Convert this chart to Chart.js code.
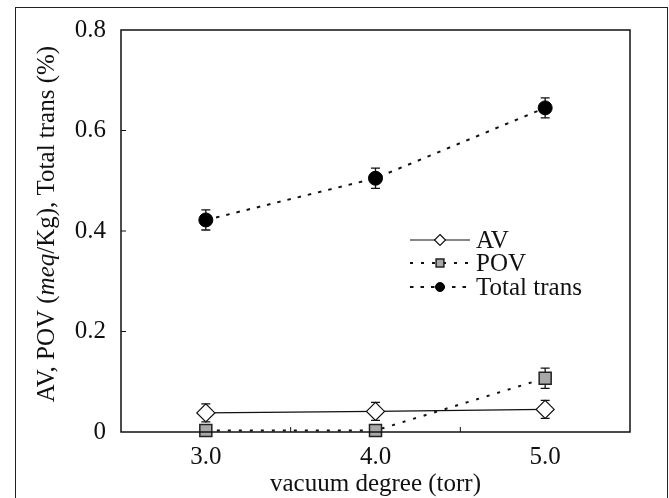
<!DOCTYPE html>
<html>
<head>
<meta charset="utf-8">
<script src="https://cdn.jsdelivr.net/npm/chart.js@4.4.1/dist/chart.umd.min.js"></script>
<style>
html, body { margin: 0; padding: 0; background: #fff; }
#marco { position: absolute; left: 15px; top: 7px; width: 651px; height: 500px; border: 1.5px solid #222; border-bottom: none; }
#caja { position: absolute; left: 0; top: 0; width: 669px; height: 498px; }
</style>
</head>
<body>
<div id="marco"></div>
<div id="caja"><canvas id="myChart" width="669" height="498"></canvas></div>
<script>
// datos
const vacio = [3.0, 4.0, 5.0]
const xTickLabels = ["3.0", "4.0", "5.0"]
const yTickLabels = ["0", "0.2", "0.4", "0.6", "0.8"]
const av = [0.038, 0.041, 0.045]
const avErr = [0.018, 0.018, 0.018]
const pov = [0.003, 0.003, 0.107]
const povErr = [0.005, 0.005, 0.02]
const total = [0.422, 0.505, 0.645]
const totalErr = [0.02, 0.02, 0.02]

const fuente = "Liberation Serif, Times New Roman, serif"
const ctx = document.querySelector("#myChart")

const puntos = (ys) => vacio.map((x, i) => ({ x: x, y: ys[i] }))

// barras de error, debajo de los marcadores
const barrasError = {
    id: "barrasError",
    beforeDatasetsDraw(chart) {
        const c = chart.ctx
        const sx = chart.scales.x, sy = chart.scales.y
        c.save()
        c.strokeStyle = "#111"
        c.lineWidth = 1.3
        chart.data.datasets.forEach(ds => {
            ds.errores.forEach((e, i) => {
                const px = sx.getPixelForValue(ds.data[i].x)
                const y1 = sy.getPixelForValue(ds.data[i].y + e)
                const y2 = sy.getPixelForValue(ds.data[i].y - e)
                c.beginPath()
                c.moveTo(px, y1); c.lineTo(px, y2)
                c.moveTo(px - 4.5, y1); c.lineTo(px + 4.5, y1)
                c.moveTo(px - 4.5, y2); c.lineTo(px + 4.5, y2)
                c.stroke()
            })
        })
        c.restore()
    }
}

const dibujarMarca = (c, ds, x, y, r) => {
    c.save()
    c.setLineDash([])
    c.fillStyle = ds.pointBackgroundColor
    c.strokeStyle = ds.pointBorderColor
    c.lineWidth = ds.pointBorderWidth
    c.beginPath()
    if (ds.pointStyle === "circle") {
        c.arc(x, y, r, 0, Math.PI * 2)
    } else if (ds.pointStyle === "rectRot") {
        c.moveTo(x, y - r); c.lineTo(x + r, y); c.lineTo(x, y + r); c.lineTo(x - r, y); c.closePath()
    } else {
        const s = r * Math.SQRT1_2
        c.rect(x - s, y - s, 2 * s, 2 * s)
    }
    c.fill()
    c.stroke()
    c.restore()
}

const marcoYLeyenda = {
    id: "marcoYLeyenda",
    afterDraw(chart) {
        const c = chart.ctx
        const a = chart.chartArea
        const sx = chart.scales.x, sy = chart.scales.y
        c.save()
        c.strokeStyle = "#111"
        c.lineWidth = 1.5
        c.strokeRect(a.left, a.top, a.right - a.left, a.bottom - a.top)

        // marcas hacia adentro
        c.lineWidth = 1
        c.beginPath()
        ;[0.2, 0.4, 0.6].forEach(v => {
            const py = sy.getPixelForValue(v)
            c.moveTo(a.left, py); c.lineTo(a.left + 5, py)
        })
        ;[3.5, 4.5].forEach(v => {
            const px = sx.getPixelForValue(v)
            c.moveTo(px, a.bottom); c.lineTo(px, a.bottom - 5)
        })
        c.stroke()

        // leyenda
        c.font = "25px " + fuente
        c.textBaseline = "middle"
        c.fillStyle = "#111"
        const filas = [240, 263, 287]
        chart.data.datasets.forEach((ds, i) => {
            const y = filas[i]
            c.save()
            c.strokeStyle = "#111"
            c.lineWidth = ds.borderWidth
            c.setLineDash(ds.borderDash || [])
            c.beginPath()
            c.moveTo(410, y); c.lineTo(470, y)
            c.stroke()
            c.restore()
            dibujarMarca(c, ds, 440, y, ds.pointStyle === "circle" ? 4.5 : 5.5)
            c.fillText(ds.label, 476, y + 1)
        })

        // titulo del eje y con "meq" en cursiva
        const partes = [
            { t: "AV, POV (", f: "25px " + fuente },
            { t: "meq", f: "italic 25px " + fuente },
            { t: "/Kg), Total trans (%)", f: "25px " + fuente }
        ]
        let ancho = 0
        partes.forEach(p => { c.font = p.f; p.w = c.measureText(p.t).width; ancho += p.w })
        c.translate(47, 224)
        c.rotate(-Math.PI / 2)
        let x0 = -ancho / 2
        partes.forEach(p => { c.font = p.f; c.fillText(p.t, x0, 0); x0 += p.w })
        c.restore()
    }
}

new Chart(ctx, {
    type: "line",
    data: {
        datasets: [
            {
                label: "AV",
                data: puntos(av),
                errores: avErr,
                borderColor: "#111",
                borderWidth: 1.2,
                pointStyle: "rectRot",
                pointRadius: 9,
                pointBackgroundColor: "#fff",
                pointBorderColor: "#111",
                pointBorderWidth: 1.2,
            },
            {
                label: "POV",
                data: puntos(pov),
                errores: povErr,
                borderColor: "#111",
                borderWidth: 2,
                borderDash: [3, 8],
                pointStyle: "rect",
                pointRadius: 8.5,
                pointBackgroundColor: "#a8a8a8",
                pointBorderColor: "#222",
                pointBorderWidth: 1.5,
            },
            {
                label: "Total trans",
                data: puntos(total),
                errores: totalErr,
                borderColor: "#111",
                borderWidth: 2,
                borderDash: [3.5, 7],
                pointStyle: "circle",
                pointRadius: 7,
                pointBackgroundColor: "#000",
                pointBorderColor: "#000",
                pointBorderWidth: 1,
            },
        ],
    },
    options: {
        responsive: false,
        animation: false,
        clip: false,
        layout: { padding: { left: 0, top: 29, right: 39, bottom: 0 } },
        plugins: { legend: { display: false }, tooltip: { enabled: false } },
        scales: {
            x: {
                type: "linear",
                min: 2.5,
                max: 5.5,
                grid: { display: false, drawTicks: false },
                border: { display: false },
                afterBuildTicks: (s) => { s.ticks = vacio.map(v => ({ value: v })) },
                afterFit: (s) => { s.height = 66 },
                ticks: {
                    padding: 10,
                    color: "#111",
                    font: { family: fuente, size: 25 },
                    callback: (v, i) => xTickLabels[i],
                },
                title: {
                    display: true,
                    text: "vacuum degree (torr)",
                    color: "#111",
                    padding: { top: 0, bottom: -1 },
                    font: { family: fuente, size: 25 },
                },
            },
            y: {
                min: 0,
                max: 0.8,
                grid: { display: false, drawTicks: false },
                border: { display: false },
                afterFit: (s) => { s.width = 121 },
                ticks: {
                    stepSize: 0.2,
                    padding: 15,
                    color: "#111",
                    font: { family: fuente, size: 25 },
                    callback: (v, i) => yTickLabels[i],
                },
            },
        },
    },
    plugins: [barrasError, marcoYLeyenda],
})
</script>
</body>
</html>
